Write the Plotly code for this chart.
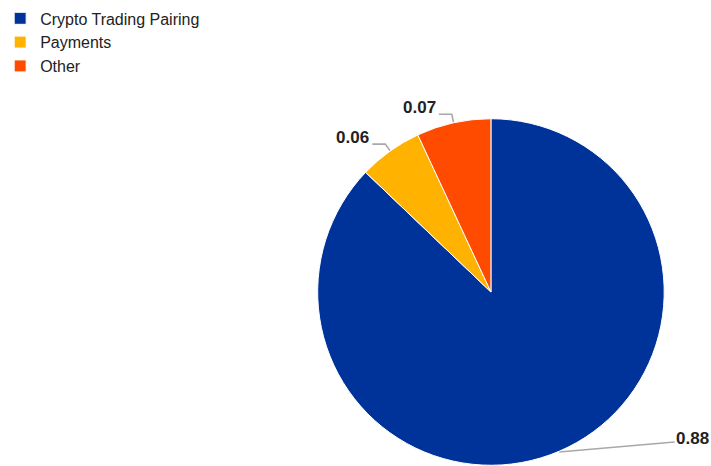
import math
import plotly.graph_objects as go

# Share of stablecoin usage by purpose
categories = ["Crypto Trading Pairing", "Payments", "Other"]
shares = [0.88, 0.06, 0.07]
value_labels = ["0.88", "0.06", "0.07"]
colors = ["#003399", "#FFB300", "#FF4B00"]

W, H = 711, 466
# pie geometry in pixels
cx, cy, R = 490, 292, 174

fig = go.Figure(go.Pie(
    labels=categories,
    values=shares,
    sort=False,
    direction="clockwise",
    rotation=0,
    marker=dict(colors=colors, line=dict(color="white", width=1)),
    textinfo="none",
    hoverinfo="label+value",
    domain=dict(x=[(cx - R) / W, (cx + R) / W],
                y=[(H - cy - R) / H, (H - cy + R) / H]),
))


def to_paper(px, py):
    return px / W, 1 - py / H


# leader lines and value labels placed at each slice's mid-angle
total = sum(shares)
cum = 0.0
shapes, annotations = [], []
line_style = dict(color="#a8a8a8", width=1.6)
for val, txt in zip(shares, value_labels):
    mid = (cum + val / 2) / total * 2 * math.pi
    cum += val
    ux, uy = math.sin(mid), -math.cos(mid)
    ex, ey = cx + R * ux, cy + R * uy
    if uy > 0:
        # label below-right: long slanted leader
        qx, qy = ex + 116, ey - 10
        pts = [(ex, ey), (qx, qy)]
        tx, ty, xa = qx, qy - 3, "left"
    else:
        # labels above-left: short elbow leader
        qx, qy = ex + 8 * ux, ey + 8 * uy
        rx, ry = qx - 13, qy
        pts = [(ex, ey), (qx, qy), (rx, ry)]
        tx, ty, xa = rx - 2, ry - 7, "right"
    path = "M " + " L ".join(
        f"{to_paper(x, y)[0]:.5f},{to_paper(x, y)[1]:.5f}" for x, y in pts)
    shapes.append(dict(type="path", xref="paper", yref="paper", path=path,
                       line=line_style, layer="below"))
    ax, ay = to_paper(tx, ty)
    annotations.append(dict(x=ax, y=ay, xref="paper", yref="paper",
                            text=f"<b>{txt}</b>", borderpad=0,
                            showarrow=False, xanchor=xa, yanchor="middle",
                            font=dict(family="Liberation Sans, Arial", size=17,
                                      color="#222222")))

fig.update_layout(
    width=W, height=H,
    margin=dict(l=0, r=0, t=0, b=0),
    paper_bgcolor="white",
    plot_bgcolor="white",
    font=dict(family="Liberation Sans, Arial", color="#222222"),
    showlegend=True,
    legend=dict(x=-0.004, y=0.997, xanchor="left", yanchor="top",
                font=dict(size=16, color="#222222"),
                traceorder="normal", bgcolor="rgba(0,0,0,0)"),
    shapes=shapes,
    annotations=annotations,
)

fig.write_html("out.html")
